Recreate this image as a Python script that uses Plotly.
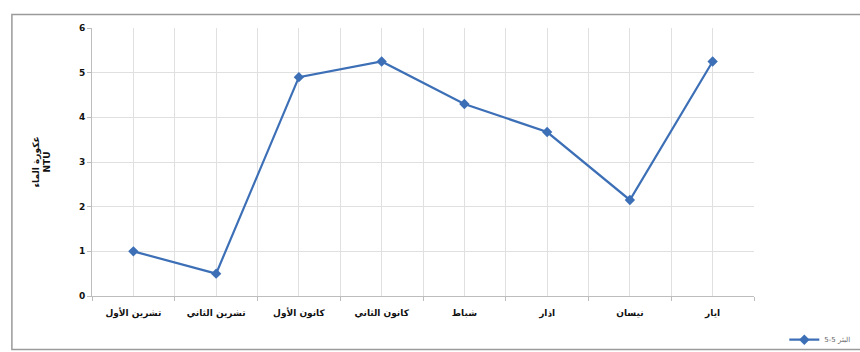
import plotly.graph_objects as go

# Monthly water turbidity readings (NTU)
months = ["تشرين الأول", "تشرين الثاني", "كانون الأول", "كانون الثاني",
          "شباط", "اذار", "نيسان", "ايار"]
turbidity = [1.0, 0.5, 4.9, 5.25, 4.3, 3.67, 2.15, 5.25]
series_name = "البئر 5-5"
y_ticks = [0, 1, 2, 3, 4, 5, 6]

positions = list(range(len(months)))
line_color = "#3c6fb6"
grid_color = "#e0e0e0"

fig = go.Figure()
fig.add_trace(go.Scatter(
    x=positions, y=turbidity, mode="lines+markers", name=series_name,
    line=dict(color=line_color, width=2.2),
    marker=dict(symbol="diamond", size=8, color=line_color),
))

fig.update_xaxes(
    range=[-0.5, len(months) - 0.5], automargin=False,
    tickmode="array", tickvals=positions, ticktext=months,
    showgrid=True, gridcolor=grid_color, gridwidth=1,
    ticks="", showline=True, linecolor="#bdbdbd", linewidth=1,
    ticklabelstandoff=8,
    tickfont=dict(family="DejaVu Sans", size=9, color="#111111", weight="bold"),
    minor=dict(tick0=0.5, dtick=1, showgrid=True, gridcolor=grid_color,
               ticks="outside", ticklen=4, tickcolor="#bdbdbd"),
    zeroline=False,
)
fig.update_yaxes(
    range=[0, 6], tickmode="array", tickvals=y_ticks, automargin=False,
    showgrid=True, gridcolor=grid_color, gridwidth=1,
    showline=True, linecolor="#bdbdbd", linewidth=1,
    ticks="outside", ticklen=4, tickcolor="#bdbdbd",
    tickfont=dict(family="DejaVu Sans", size=9, color="#111111", weight="bold"),
    zeroline=False,
    title=dict(text="عكورة الماء<br>NTU", standoff=26,
               font=dict(family="DejaVu Sans", size=9, color="#111111", weight="bold")),
)

# Outer chart frame
fig.add_shape(type="rect", xref="paper", yref="paper",
              x0=-0.121, x1=1.17, y0=-0.2, y1=1.05,
              line=dict(color="#9a9a9a", width=1.5), fillcolor="rgba(0,0,0,0)",
              layer="below")

fig.update_layout(
    width=860, height=352,
    margin=dict(l=92, r=106, t=28, b=56, autoexpand=False),
    paper_bgcolor="white", plot_bgcolor="white",
    showlegend=True,
    legend=dict(xref="container", yref="container",
                x=0.912, y=0.035, xanchor="left", yanchor="middle",
                font=dict(family="DejaVu Sans", size=7, color="#666666"),
                bgcolor="rgba(0,0,0,0)", itemwidth=30),
)

fig.write_html("out.html")
